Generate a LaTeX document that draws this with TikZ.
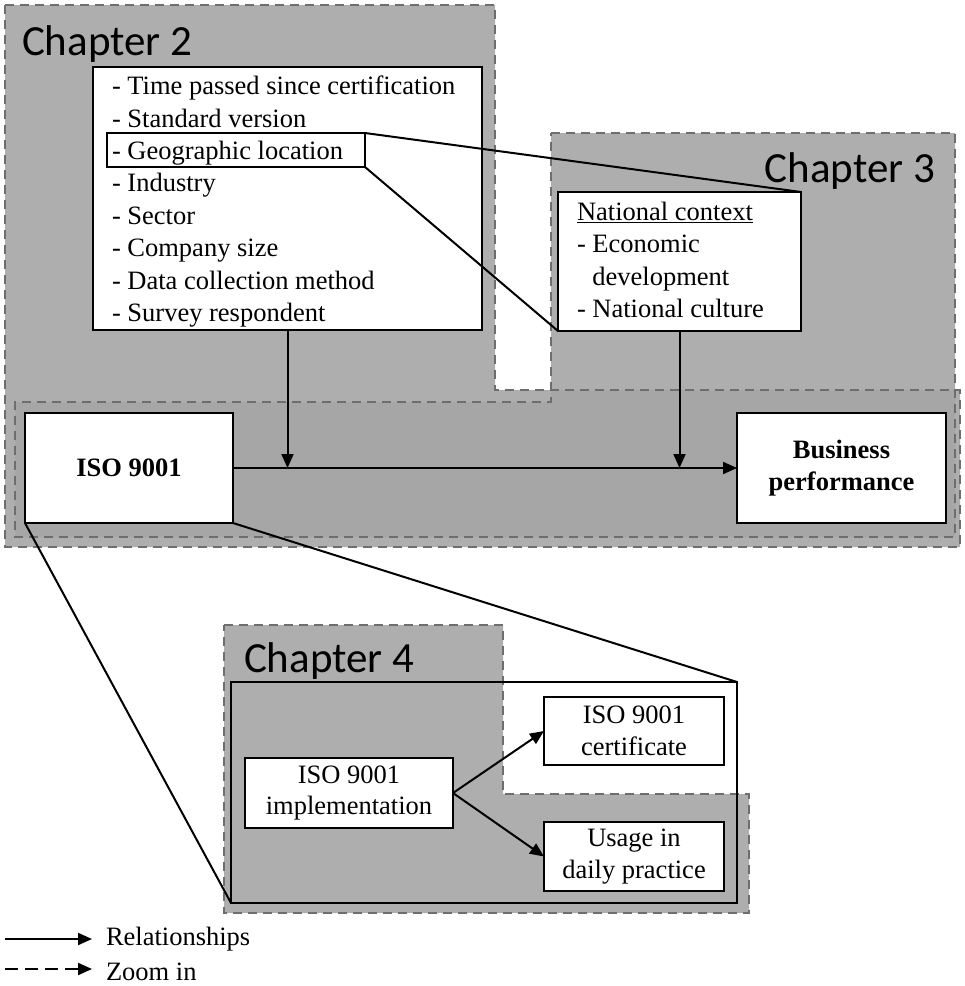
\documentclass[tikz,border=0pt]{standalone}
\usepackage{fontspec}
\setmainfont{Liberation Serif}
\newfontfamily\chapfont{Carlito}
\usetikzlibrary{arrows.meta}
\definecolor{chapfill}{RGB}{174,174,174}
\definecolor{bandfill}{RGB}{166,166,166}
\definecolor{dashgray}{RGB}{110,110,110}
\newcommand\bodysize{\fontsize{26.5}{32.4}\selectfont}
\newcommand\chapsize{\fontsize{43}{50}\selectfont}

\begin{document}
\begin{tikzpicture}[x=1pt,y=-1pt,
  chapborder/.style={draw=dashgray, line width=2.6pt, dash pattern=on 9pt off 6pt},
  box/.style={draw=black, fill=white, line width=2pt, inner sep=0pt, outer sep=0pt, font=\bodysize},
  plain/.style={inner sep=0pt, outer sep=0pt, font=\bodysize},
  link/.style={draw=black, line width=2pt},
  rel/.style={link, -{Triangle[length=14pt,width=12pt]}},
  chaplabel/.style={font=\chapfont\chapsize, inner sep=0pt, outer sep=0pt},
]
\useasboundingbox (0,0) rectangle (965,986);

% shaded chapter regions
\fill[chapfill] (5,5) -- (495,5) -- (495,390) -- (960,390) -- (960,547) -- (5,547) -- cycle;
\fill[chapfill] (551,133) -- (955,133) -- (955,537) -- (15,537) -- (15,402) -- (551,402) -- cycle;
\fill[bandfill] (15,402) -- (551,402) -- (551,390) -- (955,390) -- (955,537) -- (15,537) -- cycle;
\fill[chapfill] (224,625) -- (503,625) -- (503,794) -- (749,794) -- (749,913) -- (224,913) -- cycle;

% dashed chapter outlines
\path[chapborder] (5,5) -- (495,5) -- (495,390) -- (960,390) -- (960,547) -- (5,547) -- cycle;
\path[chapborder] (551,133) -- (955,133) -- (955,537) -- (15,537) -- (15,402) -- (551,402) -- cycle;
\path[chapborder] (224,625) -- (503,625) -- (503,794) -- (749,794) -- (749,913) -- (224,913) -- cycle;

% chapter titles
\node[chaplabel, anchor=base west] (ch2) at (22,55) {Chapter 2};
\node[chaplabel, anchor=base east] (ch3) at (935,182) {Chapter 3};
\node[chaplabel, anchor=base west] (ch4) at (244,672) {Chapter 4};

% study characteristics (chapter 2)
\node[box, anchor=north west, minimum width=389pt, minimum height=263pt] (factors) at (93,67) {};
\node[plain, anchor=north west, align=left] (factorlist) at (112,76) {%
- Time passed since certification\\
- Standard version\\
- Geographic location\\
- Industry\\
- Sector\\
- Company size\\
- Data collection method\\
- Survey respondent};
\node[draw=black, line width=2pt, inner sep=0pt, outer sep=0pt, anchor=north west,
      minimum width=258pt, minimum height=34pt] (geo) at (107,133) {};

% national context (chapter 3)
\node[box, anchor=north west, minimum width=243pt, minimum height=139pt] (nat) at (558,192) {};
\node[plain, anchor=north west, align=left] (natlist) at (577,202) {%
\underline{National context}\\
- Economic\\
\phantom{- }development\\
- National culture};

% zoom from geographic location to national context
\draw[link] (geo.north east) -- (nat.north east);
\draw[link] (geo.south east) -- (nat.south west);

% main relationship
\node[box, minimum width=208pt, minimum height=110pt, font=\bodysize\bfseries] (iso) at (129,468) {ISO 9001};
\node[box, minimum width=209pt, minimum height=110pt, font=\bodysize\bfseries, align=center] (bp) at (841.5,468) {Business\\performance};
\draw[rel] (iso.east) -- (bp.west);
\coordinate (j1) at (factors.south |- iso.east);
\coordinate (j2) at (nat.south |- iso.east);
\draw[rel] (factors.south) -- (j1);
\draw[rel] (nat.south) -- (j2);

% zoom frame (chapter 4)
\node[draw=black, line width=2pt, inner sep=0pt, outer sep=0pt, anchor=north west,
      minimum width=506pt, minimum height=221pt] (frame) at (231,682) {};
\draw[link] (iso.south west) -- (frame.south west);
\draw[link] (iso.south east) -- (frame.north east);

\node[box, align=center, minimum width=208pt, minimum height=70pt] (impl) at (349,793) {ISO 9001\\[-2pt]implementation};
\node[box, align=center, minimum width=180pt, minimum height=68pt] (cert) at (634,731) {ISO 9001\\certificate};
\node[box, align=center, minimum width=180pt, minimum height=69pt] (usage) at (634,856.5) {Usage in\\daily practice};
\draw[rel] (impl.east) -- (cert.west);
\draw[rel] (impl.east) -- (usage.west);

% legend
\coordinate (lga) at (5,939);
\coordinate (lgb) at (92,939);
\coordinate (lgc) at (5,969);
\coordinate (lgd) at (92,969);
\draw[rel] (lga) -- (lgb);
\draw[rel, dash pattern=on 13pt off 7pt] (lgc) -- (lgd);
\node[plain, anchor=base west] (lgrel) at (106,945) {Relationships};
\node[plain, anchor=base west] (lgzoom) at (106,980) {Zoom in};
\end{tikzpicture}
\end{document}
